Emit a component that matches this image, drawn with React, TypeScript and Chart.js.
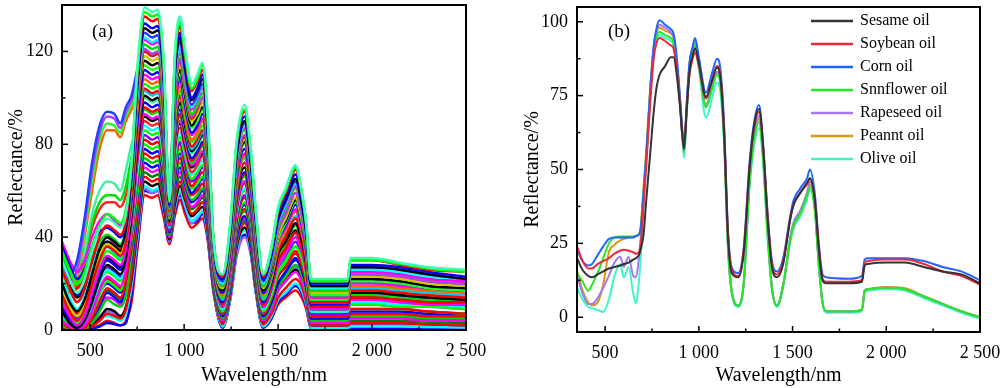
import React, { useEffect, useRef } from "react";
import { Chart, registerables } from "chart.js";

Chart.register(...registerables);

const SERIF = '"Liberation Serif", "Times New Roman", Times, serif';

// ---------- shared axis ticks ----------
const xTickValues = [500, 1000, 1500, 2000, 2500];
const xTickLabels = ["500", "1 000", "1 500", "2 000", "2 500"];
const xMinorTicks = [750, 1250, 1750, 2250];
const yTicksA = [0, 40, 80, 120];
const yMinorA = [20, 60, 100];
const yTicksB = [0, 25, 50, 75, 100];
const yMinorB = [12.5, 37.5, 62.5, 87.5];

// ---------- panel (a): spectra of all samples ----------
const wavelengthsA = [350, 390, 430, 470, 510, 550, 590, 630, 660, 690, 720, 750, 790, 830, 860, 890, 922, 950, 978, 1005, 1040, 1070, 1097, 1125, 1155, 1205, 1245, 1280, 1322, 1355, 1380, 1420, 1465, 1500, 1540, 1593, 1625, 1650, 1675, 1870, 1885, 2000, 2150, 2300, 2500];

const s01 = [30, 22, 16, 22, 34, 44, 48, 46, 44, 50, 72, 112, 139, 137, 138, 118, 56, 118, 135, 121, 106, 110, 115, 93, 40, 24, 46, 82, 97, 78, 53, 24, 36, 53, 61, 71, 60, 46, 22, 22, 31, 31, 29, 27, 26];
const s02 = [34, 26, 20, 25, 36, 45, 50, 48, 46, 52, 72, 110, 137, 135, 136, 116, 55, 116, 133, 119, 104, 108, 114, 92, 41, 24, 45, 81, 95, 76, 52, 24, 35, 52, 60, 70, 60, 45, 21, 21, 30, 30, 28.5, 26.5, 25];
const s03 = [26, 18, 12, 18, 30, 40, 45, 43, 41, 47, 70, 108, 135, 133, 134, 115, 55, 115, 131, 117, 103, 107, 112, 90, 40, 23, 44, 80, 94, 75, 51, 23, 35, 51, 59, 69, 59, 45, 21, 21, 30, 30, 28, 26, 25];
const s04 = [36, 28, 22, 26, 36, 42, 44, 42, 40, 46, 68, 106, 132, 130, 131, 112, 54, 112, 128, 115, 100, 104, 110, 88, 39, 22, 43, 78, 92, 74, 50, 22, 33, 49, 57, 67, 57, 43, 20, 20, 28, 28, 27, 25, 23];
const s05 = [20, 12, 8, 13, 24, 35, 40, 38, 36, 43, 66, 104, 130, 128, 129, 110, 54, 110, 126, 113, 99, 103, 108, 87, 39, 22, 42, 76, 90, 72, 49, 22, 33, 48, 56, 65, 55, 42, 19, 19, 27, 27, 26, 24, 22];
const s06 = [30, 24, 30, 48, 72, 88, 94, 93, 89, 96, 101, 112, 128, 126, 127, 109, 53, 109, 124, 111, 97, 101, 106, 85, 38, 21, 41, 75, 89, 71, 48, 21, 32, 47, 55, 64, 54, 41, 19, 19, 27, 27, 26, 24, 22];
const s07 = [22, 14, 9, 14, 26, 36, 40, 38, 36, 42, 64, 101, 126, 124, 125, 107, 53, 107, 122, 110, 96, 100, 105, 84, 38, 20, 40, 74, 88, 70, 47, 20, 31, 46, 54, 63, 54, 40, 18, 18, 26, 26, 25, 23, 22];
const s08 = [38, 30, 25, 30, 40, 47, 50, 47, 45, 50, 66, 100, 125, 123, 124, 106, 53, 106, 121, 109, 95, 99, 104, 84, 38, 20, 40, 74, 87, 70, 47, 20, 30, 45, 53, 62, 53, 40, 18, 18, 25, 25, 24, 22, 21];
const s09 = [32, 25, 20, 24, 32, 38, 41, 39, 37, 44, 63, 98, 123, 121, 122, 105, 52, 105, 119, 107, 93, 97, 102, 82, 37, 19, 39, 73, 86, 69, 46, 19, 29, 44, 52, 61, 52, 39, 17, 17, 25, 25, 24, 22, 21];
const s10 = [27, 20, 26, 45, 68, 85, 92, 91, 87, 94, 99, 108, 121, 119, 120, 103, 52, 103, 117, 105, 92, 96, 100, 81, 36, 19, 38, 71, 84, 67, 45, 19, 29, 43, 50, 59, 50, 38, 17, 17, 24, 24, 23, 21, 20];
const s11 = [15, 8, 4, 9, 20, 30, 36, 34, 32, 38, 60, 96, 120, 118, 119, 102, 51, 102, 116, 104, 91, 95, 100, 80, 36, 19, 38, 70, 83, 66, 45, 19, 29, 43, 50, 59, 50, 38, 17, 17, 24, 24, 23, 21, 20];
const s12 = [18, 10, 6, 11, 22, 32, 37, 35, 33, 40, 60, 94, 118, 116, 117, 100, 51, 100, 114, 103, 90, 93, 98, 79, 35, 18, 37, 69, 82, 66, 44, 18, 28, 41, 48, 57, 48, 37, 16, 16, 23, 23, 22, 20, 19];
const s13 = [26, 19, 14, 18, 27, 34, 38, 36, 34, 41, 58, 93, 116, 114, 115, 99, 51, 99, 112, 101, 88, 92, 96, 78, 35, 17, 36, 68, 81, 65, 43, 17, 27, 41, 47, 56, 48, 36, 16, 16, 22, 22, 21, 19, 18];
const s14 = [24, 18, 24, 42, 64, 82, 89, 88, 85, 92, 97, 103, 114, 112, 113, 97, 50, 97, 111, 99, 87, 90, 95, 76, 34, 17, 36, 67, 80, 64, 42, 17, 26, 39, 46, 55, 47, 35, 15, 15, 21, 21, 20, 18, 17];
const s15 = [28, 21, 15, 19, 28, 35, 38, 36, 33, 40, 57, 89, 112, 110, 111, 95, 50, 95, 109, 97, 85, 88, 93, 75, 34, 16, 35, 66, 78, 62, 41, 16, 25, 39, 45, 54, 46, 34, 15, 15, 21, 21, 20, 18, 17];
const s16 = [12, 6, 2, 6, 16, 26, 32, 30, 28, 35, 55, 86, 110, 108, 109, 94, 49, 94, 107, 96, 84, 87, 91, 74, 33, 16, 34, 64, 76, 61, 40, 16, 25, 38, 44, 52, 44, 33, 14, 14, 20, 20, 19, 18, 17];
const s17 = [22, 16, 22, 40, 60, 78, 86, 86, 83, 90, 95, 100, 108, 106, 107, 92, 49, 92, 105, 94, 82, 85, 90, 72, 32, 15, 33, 63, 75, 60, 39, 15, 24, 36, 43, 51, 43, 32, 14, 14, 19, 19, 18, 17, 16];
const s18 = [14, 7, 3, 7, 18, 28, 34, 32, 30, 36, 54, 85, 106, 104, 105, 90, 48, 90, 103, 92, 81, 84, 88, 71, 32, 14, 32, 62, 74, 59, 38, 14, 23, 36, 43, 51, 43, 32, 13, 13, 19, 19, 18, 17, 16];
const s19 = [30, 23, 18, 22, 30, 36, 40, 37, 35, 42, 53, 81, 104, 102, 103, 88, 48, 88, 101, 90, 79, 82, 86, 70, 31, 14, 31, 60, 72, 58, 37, 14, 23, 34, 40, 48, 41, 30, 12, 12, 17, 17, 16, 15, 14];
const s20 = [24, 17, 12, 16, 25, 32, 36, 33, 31, 38, 52, 82, 103, 101, 102, 88, 48, 88, 100, 90, 78, 81, 85, 69, 31, 13, 31, 60, 72, 58, 37, 13, 22, 35, 41, 49, 42, 31, 12, 12, 18, 18, 17, 16, 15];
const s21 = [8, 3, 1, 4, 12, 22, 28, 26, 24, 31, 50, 78, 101, 99, 100, 86, 47, 86, 98, 88, 77, 80, 84, 68, 30, 13, 30, 59, 70, 56, 36, 13, 21, 33, 38, 46, 39, 29, 12, 12, 16, 16, 15, 14, 13];
const s22 = [26, 20, 22, 34, 50, 60, 64, 63, 60, 69, 80, 88, 100, 98, 99, 85, 47, 85, 97, 87, 76, 79, 83, 67, 30, 13, 30, 59, 70, 56, 36, 13, 22, 34, 40, 48, 41, 30, 12, 12, 17, 17, 16, 15, 14];
const s23 = [10, 5, 2, 5, 14, 24, 30, 28, 26, 33, 50, 78, 98, 96, 97, 83, 47, 83, 95, 85, 74, 77, 81, 66, 29, 12, 29, 57, 68, 54, 34, 12, 21, 33, 38, 46, 39, 29, 11, 11, 16, 16, 15, 14, 13];
const s24 = [18, 12, 7, 10, 18, 26, 30, 28, 26, 33, 48, 75, 96, 94, 95, 82, 46, 82, 93, 84, 73, 76, 80, 64, 29, 11, 28, 56, 67, 54, 33, 11, 19, 30, 35, 42, 36, 26, 10, 10, 14, 14, 13, 12, 12];
const s25 = [24, 18, 20, 32, 46, 55, 58, 58, 56, 62, 74, 82, 95, 93, 94, 81, 46, 81, 92, 83, 72, 75, 79, 64, 29, 11, 28, 55, 66, 53, 33, 11, 20, 31, 37, 45, 38, 28, 10, 10, 15, 15, 14, 13, 12];
const s26 = [4, 1.5, 0.5, 2, 8, 17, 23, 21, 19, 26, 45, 72, 93, 91, 92, 79, 45, 79, 90, 81, 71, 73, 77, 62, 28, 10, 26, 53, 64, 51, 32, 10, 18, 28, 33, 40, 34, 25, 9, 9, 13, 13, 12, 11, 11];
const s27 = [20, 13, 8, 12, 20, 27, 31, 29, 27, 34, 47, 73, 92, 90, 91, 78, 45, 78, 89, 80, 70, 73, 76, 62, 28, 10, 26, 53, 64, 51, 32, 10, 18, 30, 36, 43, 37, 26, 9, 9, 14, 14, 13, 12, 11];
const s28 = [22, 16, 18, 30, 44, 52, 55, 55, 53, 58, 70, 78, 90, 88, 89, 77, 45, 77, 87, 78, 68, 71, 75, 60, 27, 10, 26, 52, 63, 50, 31, 10, 18, 29, 35, 42, 36, 26, 9, 9, 13, 13, 12, 11, 11];
const s29 = [7, 3, 1, 3, 10, 20, 26, 24, 22, 29, 44, 68, 88, 86, 87, 75, 44, 75, 85, 77, 67, 70, 73, 59, 26, 9, 25, 51, 61, 49, 30, 9, 17, 28, 34, 41, 35, 25, 8, 8, 12, 12, 11, 11, 10];
const s30 = [14, 8, 4, 7, 14, 21, 25, 23, 21, 28, 43, 66, 86, 84, 85, 73, 44, 73, 83, 75, 65, 68, 71, 58, 26, 8, 24, 50, 60, 48, 29, 8, 15, 25, 30, 36, 31, 22, 8, 8, 11, 11, 10, 10, 9];
const s31 = [16, 10, 5, 8, 16, 23, 27, 25, 23, 30, 42, 63, 84, 82, 83, 71, 43, 71, 81, 73, 64, 66, 70, 56, 25, 8, 23, 48, 58, 46, 28, 8, 16, 26, 31, 38, 32, 23, 7, 7, 11, 11, 10, 10, 9];
const s32 = [3, 1, 0.3, 1, 5, 12, 18, 16, 14, 21, 40, 62, 82, 80, 81, 70, 43, 70, 80, 71, 62, 65, 68, 55, 25, 7, 22, 47, 57, 46, 27, 7, 14, 23, 27, 33, 28, 20, 6, 6, 9, 9, 9, 8, 7];
const s33 = [5, 2, 0.5, 2, 7, 15, 21, 19, 17, 24, 38, 58, 80, 78, 79, 68, 43, 68, 78, 70, 61, 63, 66, 54, 24, 7, 21, 45, 55, 44, 26, 7, 14, 24, 29, 36, 31, 21, 6, 6, 9, 9, 9, 8, 7];
const s34 = [10, 5, 2, 4, 10, 16, 20, 18, 16, 22, 37, 57, 78, 76, 77, 66, 42, 66, 76, 68, 59, 62, 65, 52, 23, 6, 20, 44, 54, 43, 25, 6, 12, 20, 25, 30, 26, 18, 5, 5, 8, 8, 8, 7, 7];
const s35 = [12, 7, 3, 5, 12, 18, 22, 20, 18, 25, 35, 53, 76, 74, 75, 65, 42, 65, 74, 66, 58, 60, 63, 51, 23, 6, 20, 43, 52, 42, 24, 6, 13, 23, 28, 34, 29, 20, 5, 5, 7, 7, 7, 6, 6];
const s36 = [2, 0.5, 0.2, 0.5, 3, 8, 13, 11, 10, 15, 32, 51, 74, 72, 73, 63, 41, 63, 72, 64, 56, 58, 61, 50, 22, 5, 19, 42, 51, 41, 23, 5, 11, 19, 23, 28, 24, 16, 4, 4, 6, 6, 6, 5, 5];
const s37 = [3, 1, 0.3, 1, 4, 10, 16, 14, 12, 18, 30, 49, 72, 70, 71, 61, 41, 61, 70, 63, 55, 57, 60, 48, 22, 5, 18, 40, 49, 39, 23, 5, 12, 20, 25, 31, 26, 18, 4, 4, 6, 6, 6, 5, 5];
const s38 = [6, 3, 1, 2, 6, 11, 14, 13, 11, 16, 29, 47, 70, 68, 69, 60, 40, 60, 68, 61, 53, 55, 58, 47, 21, 4, 17, 39, 48, 38, 22, 4, 9, 17, 21, 25, 21, 14, 3, 3, 5, 5, 5, 4, 4];
const s39 = [8, 4, 1.5, 3, 8, 13, 17, 15, 13, 19, 28, 45, 68, 66, 67, 58, 40, 58, 66, 59, 52, 54, 57, 46, 20, 4, 17, 38, 47, 38, 21, 4, 10, 18, 23, 28, 24, 16, 3, 3, 4, 4, 4, 3.5, 3];
const s40 = [1, 0.3, 0, 0.3, 1.5, 4, 7, 6, 5, 9, 24, 43, 66, 64, 65, 56, 40, 56, 64, 57, 50, 52, 55, 44, 20, 2.5, 16, 37, 46, 37, 20, 2.5, 7, 14, 18, 22, 19, 12, 2, 2, 3, 3, 3, 2.5, 2];
const s41 = [2, 0.5, 0.2, 0.5, 2, 5, 9, 8, 6, 10, 22, 42, 64, 62, 63, 54, 39, 54, 62, 56, 49, 51, 53, 43, 19, 3, 15, 36, 44, 35, 19, 3, 9, 17, 21, 26, 22, 14, 2, 2, 3, 3, 3, 2.5, 2];
const s42 = [3, 1, 0.3, 0.6, 2, 4, 6, 5, 4, 7, 20, 40, 62, 60, 61, 53, 39, 53, 60, 54, 47, 49, 51, 42, 19, 1.5, 14, 35, 43, 34, 18, 1.5, 6, 13, 16, 20, 17, 11, 1, 1, 1.5, 1.5, 1.5, 1.3, 1.2];
const s43 = [4, 1.5, 0.5, 1, 3, 6, 8, 7, 5, 8, 18, 38, 61, 59, 60, 52, 38, 52, 59, 53, 46, 48, 51, 41, 18, 2, 13, 32, 40, 32, 17, 2, 8, 18, 22, 27, 23, 14, 1.5, 1.5, 2, 2, 2, 1.5, 1];
const s44 = [0.5, 0.2, 0, 0.1, 0.5, 1.5, 3, 2.5, 2, 3, 15, 36, 60, 59, 60, 51, 38, 51, 58, 52, 46, 47, 50, 40, 18, 1, 13, 33, 41, 33, 17, 1, 5, 12, 15, 19, 16, 10, 0.7, 0.7, 1, 1, 1, 0.8, 0.7];
const s45 = [1, 0.3, 0, 0.2, 1, 2, 4, 3, 2, 4, 12, 34, 58, 57, 58, 49, 37, 49, 56, 50, 44, 46, 48, 39, 17, 1, 14, 36, 44, 35, 18, 1, 5, 11, 14, 17, 14, 9, 0.5, 0.5, 1, 1, 1, 0.5, 0.5];

const seriesA = [s01, s02, s03, s04, s05, s06, s07, s08, s09, s10, s11, s12, s13, s14, s15, s16, s17, s18, s19, s20, s21, s22, s23, s24, s25, s26, s27, s28, s29, s30, s31, s32, s33, s34, s35, s36, s37, s38, s39, s40, s41, s42, s43, s44, s45];
const colorsA = [
  "#3CFFB4", "#00FF00", "#FF0000", "#0000FF", "#000000", "#2040FF", "#00FFFF", "#FF00FF", "#00E000",
  "#B040FF", "#FF0000", "#C8C800", "#000000", "#22FF22", "#0000FF", "#FF00FF", "#FF6000", "#00FF00",
  "#FF0000", "#00C8FF", "#000000", "#40F0A0", "#0000FF", "#FF0000", "#00E000", "#FF00FF", "#000000",
  "#FF2020", "#00FFFF", "#00FF00", "#8000FF", "#FF0000", "#00FF00", "#0000FF", "#FF0000", "#00CC00",
  "#0000FF", "#FF00FF", "#008000", "#FF0000", "#000000", "#00FFFF", "#A060FF", "#0000FF", "#FF0000",
];

// ---------- panel (b): mean spectra of the seven oils ----------
const wavelengthsB = [350, 380, 410, 430, 460, 490, 520, 550, 580, 600, 625, 650, 665, 680, 690, 705, 720, 740, 760, 775, 790, 820, 850, 865, 884, 900, 910, 921, 935, 950, 965, 980, 1000, 1038, 1070, 1097, 1115, 1135, 1155, 1175, 1210, 1240, 1270, 1295, 1321, 1345, 1365, 1390, 1417, 1450, 1487, 1505, 1540, 1577, 1593, 1620, 1640, 1660, 1680, 1800, 1870, 1885, 1900, 2000, 2100, 2200, 2300, 2400, 2500];

const oilNames = ["Sesame oil", "Soybean oil", "Corn oil", "Snnflower oil", "Rapeseed oil", "Peannt oil", "Olive oil"];

const sesameOil = [20, 16, 14, 13.5, 14.5, 15.5, 16.5, 17, 17.5, 18, 18.5, 19.5, 20, 21, 23, 28, 40, 55, 70, 78, 82, 85, 88, 88, 81, 71, 63, 57, 70, 83, 88, 91, 86, 74.5, 80, 84.5, 81, 62, 28, 15, 13.5, 22, 50, 65, 70.5, 56, 35, 17, 13.5, 18, 33, 38, 42, 45.5, 47, 39, 23, 12.5, 11.5, 11.5, 12, 17.5, 18, 18.5, 18.5, 17, 15.5, 14.5, 11.5];
const soybeanOil = [24, 19, 16.5, 16.5, 18, 19, 20, 21.5, 22.5, 22.8, 22.5, 22, 21.5, 22, 25, 38, 52, 72, 88, 93, 94.5, 93.5, 92, 91, 83, 72, 63, 58, 70, 82, 87, 89.5, 85, 74, 80, 85, 82, 63, 29, 16, 14, 23, 50, 64, 69.5, 56, 36, 18, 14.5, 19, 33, 38, 42, 45, 47, 39, 24, 13, 12, 12, 12.5, 18.5, 19, 19.5, 19.5, 18, 15.5, 14, 11];
const cornOil = [23, 19, 17.5, 18, 21, 24, 26.5, 27, 27, 27, 27, 27, 27.5, 28, 30, 42, 55, 76, 92, 98, 100.5, 99, 97.5, 96, 87, 74, 65, 57, 72, 86, 91, 94.5, 88, 76, 82.5, 87.5, 84, 65, 30, 17, 15, 24, 52, 66, 71.8, 57, 37, 19, 15.5, 20, 34, 39.5, 43.5, 47, 50, 41, 25, 14.5, 13.5, 13, 14, 19.5, 20, 20, 20, 19, 17, 15.5, 12.5];
const sunflowerOil = [15, 12, 9, 11, 15, 20, 25, 27, 27.3, 27.3, 27.3, 27.3, 27.5, 28, 30, 42, 55, 75, 90, 95, 96.5, 95.5, 94.5, 93, 84, 72, 63, 56, 70, 84, 90, 92.5, 86, 71, 77, 82, 79, 60, 25, 9, 4, 12, 45, 60, 66, 52, 30, 10, 4, 11, 26, 31, 35, 41, 44, 36, 18, 5, 2, 2, 2.5, 9, 9.5, 10, 9.5, 7, 4.5, 2, 0];
const rapeseedOil = [14, 8, 4.5, 4.5, 6.5, 10, 14, 18.5, 20.5, 17, 20.5, 14, 13.5, 20, 27, 42, 55, 76, 92, 97, 99, 98, 96.5, 95, 85, 73, 64, 56, 71, 85, 90, 92, 86, 71.5, 78, 83, 80, 61, 25, 9, 4, 12, 46, 62, 68, 54, 31, 10, 4, 11, 27, 32, 36, 42, 46, 37, 18, 5, 2, 2, 2.5, 9, 9.5, 10, 9.5, 7, 4.5, 2, 0];
const peanutOil = [16, 9, 5, 4, 5, 11, 22, 24.5, 26, 26.5, 27, 27.2, 27.5, 28, 31, 44, 57, 77, 92, 96.5, 98, 97, 96, 94.5, 85, 73, 64, 57, 72, 86, 91, 93.5, 87, 72, 78, 83, 80, 61, 25, 9, 4, 12, 46, 61, 67, 53, 31, 10, 4, 11, 26, 31, 35, 42, 45, 36, 18, 5, 2, 2, 2.5, 9, 9.5, 10.2, 9.8, 7.2, 4.6, 2.1, 0];
const oliveOil = [10, 6, 3.5, 3, 2.5, 1.8, 6, 14, 18, 13.5, 17, 8, 4.7, 12, 20, 38, 52, 74, 90, 94, 95.5, 94.5, 93.5, 92, 83, 71, 62, 54, 68, 83, 88, 91, 84, 67.5, 74, 79.5, 76, 58, 23, 8, 3.5, 11, 43, 58, 64, 50, 28, 9, 3.5, 10, 25, 30, 34, 40, 43, 35, 17, 4.5, 1.5, 1.5, 2, 8.5, 9, 9.5, 9, 6.5, 4, 1.5, -0.5];

const seriesB = [sesameOil, soybeanOil, cornOil, sunflowerOil, rapeseedOil, peanutOil, oliveOil];
const colorsB = ["#333333", "#F0283C", "#1E64FF", "#28E628", "#A678F0", "#D49A14", "#3CF5C8"];

type PanelCfg = {
  tag: string;
  wavelengths: number[];
  series: number[][];
  colors: string[];
  labels?: string[];
  lineWidth: number;
  yMin: number;
  yMax: number;
  yMajor: number[];
  yMinor: number[];
  padTop: number;
  padRight: number;
  yAxisWidth: number;
  xAxisHeight: number;
  yTitlePad: number;
  tagDx: number;
  tagDy: number;
  legend: boolean;
};

function framePlugin(cfg: PanelCfg) {
  return {
    id: "frameTicks",
    afterDatasetsDraw(chart: any) {
      const { ctx, chartArea: a, scales } = chart;
      const xs = scales.x;
      const ys = scales.y;
      ctx.save();
      ctx.strokeStyle = "#000";
      const seg = (x1: number, y1: number, x2: number, y2: number) => {
        ctx.beginPath();
        ctx.moveTo(x1, y1);
        ctx.lineTo(x2, y2);
        ctx.stroke();
      };
      ctx.lineWidth = 1.5;
      xTickValues.forEach((v) => {
        const p = xs.getPixelForValue(v);
        seg(p, a.bottom, p, a.bottom - 6);
      });
      xMinorTicks.forEach((v) => {
        const p = xs.getPixelForValue(v);
        seg(p, a.bottom, p, a.bottom - 3.5);
      });
      cfg.yMajor.forEach((v) => {
        const p = ys.getPixelForValue(v);
        seg(a.left, p, a.left + 6, p);
      });
      cfg.yMinor.forEach((v) => {
        const p = ys.getPixelForValue(v);
        seg(a.left, p, a.left + 3.5, p);
      });
      ctx.lineWidth = 2;
      ctx.strokeRect(a.left, a.top, a.right - a.left, a.bottom - a.top);

      ctx.fillStyle = "#000";
      ctx.textBaseline = "middle";
      ctx.textAlign = "left";
      ctx.font = `19px ${SERIF}`;
      ctx.fillText(cfg.tag, a.left + cfg.tagDx, a.top + cfg.tagDy);

      if (cfg.legend) {
        ctx.font = `16px ${SERIF}`;
        chart.data.datasets.forEach((ds: any, i: number) => {
          const y = a.top + 14 + i * 23;
          ctx.strokeStyle = ds.borderColor;
          ctx.lineWidth = 2.5;
          seg(a.left + 234, y, a.left + 276, y);
          ctx.fillStyle = "#000";
          ctx.fillText(ds.label, a.left + 283, y);
        });
      }
      ctx.restore();
    },
  };
}

function buildConfig(cfg: PanelCfg): any {
  return {
    type: "line",
    data: {
      datasets: cfg.series.map((vals, i) => ({
        label: cfg.labels ? cfg.labels[i] : `sample ${i + 1}`,
        data: cfg.wavelengths.map((w, j) => ({ x: w, y: vals[j] })),
        borderColor: cfg.colors[i],
        backgroundColor: cfg.colors[i],
        borderWidth: cfg.lineWidth,
        pointRadius: 0,
        fill: false,
        cubicInterpolationMode: "monotone",
      })),
    },
    options: {
      animation: false,
      responsive: false,
      maintainAspectRatio: false,
      events: [],
      layout: { padding: { top: cfg.padTop, right: cfg.padRight, bottom: 0, left: 0 } },
      plugins: { legend: { display: false }, tooltip: { enabled: false }, title: { display: false } },
      scales: {
        x: {
          type: "linear",
          min: 350,
          max: 2500,
          grid: { display: false, drawTicks: false },
          border: { display: false },
          afterBuildTicks: (s: any) => {
            s.ticks = xTickValues.map((v) => ({ value: v }));
          },
          afterFit: (s: any) => {
            s.height = cfg.xAxisHeight;
            s.paddingLeft = 0;
            s.paddingRight = 0;
            s.paddingTop = 0;
            s.paddingBottom = 0;
          },
          ticks: {
            autoSkip: false,
            maxRotation: 0,
            minRotation: 0,
            padding: 10,
            color: "#000",
            font: { family: SERIF, size: 18 },
            callback: (v: any) => {
              const k = xTickValues.indexOf(Number(v));
              return k >= 0 ? xTickLabels[k] : "";
            },
          },
          title: {
            display: true,
            text: "Wavelength/nm",
            color: "#000",
            font: { family: SERIF, size: 20 },
            padding: { top: 0, bottom: 0 },
          },
        },
        y: {
          type: "linear",
          min: cfg.yMin,
          max: cfg.yMax,
          grid: { display: false, drawTicks: false },
          border: { display: false },
          afterBuildTicks: (s: any) => {
            s.ticks = cfg.yMajor.map((v) => ({ value: v }));
          },
          afterFit: (s: any) => {
            s.width = cfg.yAxisWidth;
            s.paddingLeft = 0;
            s.paddingRight = 0;
            s.paddingTop = 0;
            s.paddingBottom = 0;
          },
          ticks: {
            autoSkip: false,
            padding: 9,
            color: "#000",
            font: { family: SERIF, size: 18 },
            callback: (v: any) => String(v),
          },
          title: {
            display: true,
            text: "Reflectance/%",
            color: "#000",
            font: { family: SERIF, size: 20 },
            padding: { top: cfg.yTitlePad, bottom: 0 },
          },
        },
      },
    },
    plugins: [framePlugin(cfg)],
  };
}

const panelA: PanelCfg = {
  tag: "(a)",
  wavelengths: wavelengthsA,
  series: seriesA,
  colors: colorsA,
  lineWidth: 2.5,
  yMin: 0,
  yMax: 140,
  yMajor: yTicksA,
  yMinor: yMinorA,
  padTop: 5,
  padRight: 34,
  yAxisWidth: 62,
  xAxisHeight: 58,
  yTitlePad: 5,
  tagDx: 30,
  tagDy: 27,
  legend: false,
};

const panelB: PanelCfg = {
  tag: "(b)",
  wavelengths: wavelengthsB,
  series: seriesB,
  colors: colorsB,
  labels: oilNames,
  lineWidth: 2,
  yMin: -5,
  yMax: 105,
  yMajor: yTicksB,
  yMinor: yMinorB,
  padTop: 7,
  padRight: 40,
  yAxisWidth: 117,
  xAxisHeight: 56,
  yTitlePad: 61,
  tagDx: 31,
  tagDy: 25,
  legend: true,
};

function Panel({ cfg, left, width }: { cfg: PanelCfg; left: number; width: number }) {
  const ref = useRef<HTMLCanvasElement>(null);
  useEffect(() => {
    const chart = new Chart(ref.current as HTMLCanvasElement, buildConfig(cfg));
    return () => chart.destroy();
  }, [cfg]);
  return (
    <canvas
      ref={ref}
      width={width}
      height={388}
      style={{ position: "absolute", left, top: 0, width, height: 388 }}
    />
  );
}

export default function App() {
  return (
    <div
      style={{
        position: "fixed",
        left: 0,
        top: 0,
        width: 1000,
        height: 388,
        overflow: "hidden",
        background: "#fff",
      }}
    >
      <Panel cfg={panelA} left={0} width={500} />
      <Panel cfg={panelB} left={460} width={560} />
    </div>
  );
}
